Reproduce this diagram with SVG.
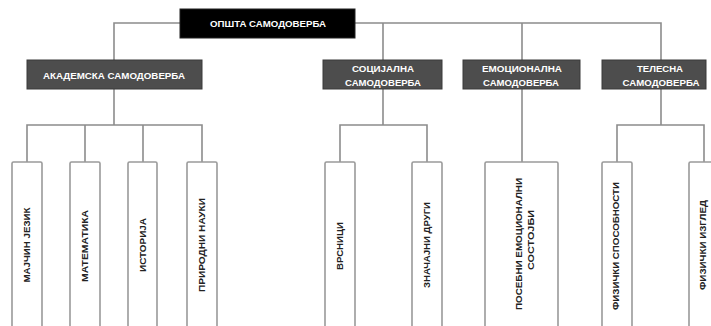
<svg xmlns="http://www.w3.org/2000/svg" width="711" height="326" viewBox="0 0 711 326">
<style>
.conn{fill:none;stroke:#8c8c8c;stroke-width:1.6}
.dark{fill:#4d4d4d;stroke:#3a3a3a;stroke-width:1}
.top{fill:#000;stroke:#222;stroke-width:1}
.leaf{fill:#fff;stroke:#9a9a9a;stroke-width:1.6}
.wt{font-family:"Liberation Sans",Arial,sans-serif;font-weight:bold;font-size:9.5px;fill:#fff;text-anchor:middle;dominant-baseline:central}
.lt{font-family:"Liberation Sans",Arial,sans-serif;font-weight:bold;font-size:9px;fill:#222;text-anchor:middle;dominant-baseline:central}
</style>
<rect width="711" height="326" fill="#fff"/>
<g id="connectors">
<path class="conn" d="M114 60 V23 H661 V60"/>
<path class="conn" d="M383 23 V60 M522 23 V60"/>
<path class="conn" d="M114 89 V125 M27 162 V125 H202 V162 M85 125 V162 M143 125 V162"/>
<path class="conn" d="M383 89 V125 M340 162 V125 H427 V162"/>
<path class="conn" d="M522 89 V162"/>
<path class="conn" d="M661 89 V125 M617 162 V125 H704 V162"/>
</g>
<g id="n-opsta"><rect class="top" x="180" y="9" width="175" height="29"/><text class="wt" x="268" y="23.5" font-size="10" textLength="116" lengthAdjust="spacingAndGlyphs">ОПШТА САМОДОВЕРБА</text></g>
<g id="n-akademska"><rect class="dark" x="27" y="60" width="175" height="29"/><text class="wt" x="114" y="75" textLength="142" lengthAdjust="spacingAndGlyphs">АКАДЕМСКА САМОДОВЕРБА</text></g>
<g id="n-socijalna"><rect class="dark" x="323" y="60" width="119" height="29"/><text class="wt" x="383" y="68.5" textLength="62" lengthAdjust="spacingAndGlyphs">СОЦИЈАЛНА</text><text class="wt" x="383" y="82" textLength="76" lengthAdjust="spacingAndGlyphs">САМОДОВЕРБА</text></g>
<g id="n-emocionalna"><rect class="dark" x="463" y="60" width="117" height="29"/><text class="wt" x="522" y="68.5" textLength="80" lengthAdjust="spacingAndGlyphs">ЕМОЦИОНАЛНА</text><text class="wt" x="521" y="82" textLength="76" lengthAdjust="spacingAndGlyphs">САМОДОВЕРБА</text></g>
<g id="n-telesna"><rect class="dark" x="602" y="60" width="104" height="29"/><text class="wt" x="660" y="68.5" textLength="46" lengthAdjust="spacingAndGlyphs">ТЕЛЕСНА</text><text class="wt" x="661" y="82" textLength="77" lengthAdjust="spacingAndGlyphs">САМОДОВЕРБА</text></g>
<g id="n-majcin"><rect class="leaf" x="12" y="162" width="30" height="170" rx="1.5"/><text class="lt" transform="translate(27 245) rotate(-90)" textLength="75" lengthAdjust="spacingAndGlyphs">МАЈЧИН ЈЕЗИК</text></g>
<g id="n-matematika"><rect class="leaf" x="70" y="162" width="30" height="170" rx="1.5"/><text class="lt" transform="translate(85 246) rotate(-90)" textLength="72" lengthAdjust="spacingAndGlyphs">МАТЕМАТИКА</text></g>
<g id="n-istorija"><rect class="leaf" x="128" y="162" width="29" height="170" rx="1.5"/><text class="lt" transform="translate(143 245) rotate(-90)" textLength="54" lengthAdjust="spacingAndGlyphs">ИСТОРИЈА</text></g>
<g id="n-prirodni"><rect class="leaf" x="187" y="162" width="30" height="170" rx="1.5"/><text class="lt" transform="translate(202 245) rotate(-90)" textLength="94" lengthAdjust="spacingAndGlyphs">ПРИРОДНИ НАУКИ</text></g>
<g id="n-vrsnici"><rect class="leaf" x="325" y="162" width="30" height="170" rx="1.5"/><text class="lt" transform="translate(340 246) rotate(-90)" textLength="48" lengthAdjust="spacingAndGlyphs">ВРСНИЦИ</text></g>
<g id="n-znacajni"><rect class="leaf" x="412" y="162" width="30" height="170" rx="1.5"/><text class="lt" transform="translate(427 245) rotate(-90)" textLength="86" lengthAdjust="spacingAndGlyphs">ЗНАЧАЈНИ ДРУГИ</text></g>
<g id="n-posebni"><rect class="leaf" x="485" y="162" width="73" height="170" rx="1.5"/><text class="lt" transform="translate(519 244) rotate(-90)" textLength="132" lengthAdjust="spacingAndGlyphs">ПОСЕБНИ ЕМОЦИОНАЛНИ</text><text class="lt" transform="translate(531 240) rotate(-90)" textLength="60" lengthAdjust="spacingAndGlyphs">СОСТОЈБИ</text></g>
<g id="n-sposobnosti"><rect class="leaf" x="602" y="162" width="30" height="170" rx="1.5"/><text class="lt" transform="translate(616 246) rotate(-90)" textLength="128" lengthAdjust="spacingAndGlyphs">ФИЗИЧКИ СПОСОБНОСТИ</text></g>
<g id="n-izgled"><rect class="leaf" x="689" y="162" width="30" height="170" rx="1.5"/><text class="lt" transform="translate(703 245) rotate(-90)" textLength="90" lengthAdjust="spacingAndGlyphs">ФИЗИЧКИ ИЗГЛЕД</text></g>
</svg>
